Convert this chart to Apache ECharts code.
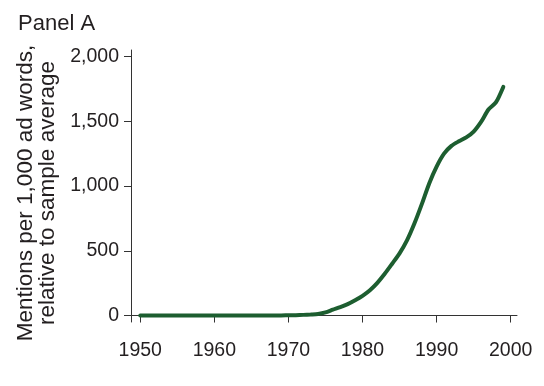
<!DOCTYPE html>
<html>
<head>
<meta charset="utf-8">
<script src="https://cdn.jsdelivr.net/npm/echarts@6/dist/echarts.min.js"></script>
<style>html,body{margin:0;padding:0;background:#fff}#c{width:544px;height:386px}</style>
</head>
<body>
<div id="c"></div>
<script>
const years = [1950,1951,1952,1953,1954,1955,1956,1957,1958,1959,1960,1961,1962,1963,1964,1965,1966,1967,1968,1969,1970,1971,1972,1973,1974,1975,1976,1977,1978,1979,1980,1981,1982,1983,1984,1985,1986,1987,1988,1989,1990,1991,1992,1993,1994,1995,1996,1997,1998,1999];
const mentions = [0,0,0,0,0,0,0,0,0,0,0,0,0,0,0,0,0,0,0,0,2,3,5,8,12,24,45,65,88,118,152,195,252,322,400,480,580,710,860,1020,1150,1250,1310,1345,1375,1420,1495,1590,1645,1765];
const xTicks = [1950,1960,1970,1980,1990,2000];
const yTicks = [0,500,1000,1500,2000];

const chart = echarts.init(document.getElementById('c'));
const txt = '#231f20';
const ff = 'Liberation Sans, Arial, sans-serif';
chart.setOption({
  animation: false,
  title: {text: 'Panel A', left: 13, top: 8, textStyle: {fontFamily: ff, fontSize: 22, fontWeight: 'normal', color: txt}},
  grid: {left: 131, right: 27, top: 50, bottom: 64},
  xAxis: {
    type: 'value', min: 1948.75, max: 2000.85,
    axisLine: {show: true, lineStyle: {color: '#333', width: 1}},
    axisTick: {show: true, length: 7, lineStyle: {color: '#333'}, customValues: xTicks},
    axisLabel: {customValues: xTicks, fontFamily: ff, fontSize: 19.5, color: txt, margin: 19,
      formatter: v => String(v)},
    splitLine: {show: false}
  },
  yAxis: {
    type: 'value', min: -50, max: 2050,
    name: 'Mentions per 1,000 ad words,\nrelative to sample average',
    nameLocation: 'middle', nameGap: 67, nameRotate: 90,
    nameTextStyle: {fontFamily: ff, fontSize: 22.5, color: txt, lineHeight: 22, padding: [0, 0, 0, 0]},
    axisLine: {show: true, lineStyle: {color: '#333', width: 1}},
    axisTick: {show: true, length: 7, lineStyle: {color: '#333'}, customValues: yTicks},
    axisLabel: {customValues: yTicks, fontFamily: ff, fontSize: 19.5, color: txt, margin: 12,
      formatter: v => v.toLocaleString('en-US')},
    splitLine: {show: false}
  },
  series: [{
    type: 'line', data: years.map((y, i) => [y, mentions[i]]),
    smooth: 0.25, showSymbol: false,
    lineStyle: {color: '#1d5e30', width: 4, cap: 'round'}
  }]
});
// shift the rotated axis name slightly down to match the reference placement
chart.setOption({yAxis: {nameTextStyle: {padding: [0, 14, 0, 0]}}});
</script>
</body>
</html>
